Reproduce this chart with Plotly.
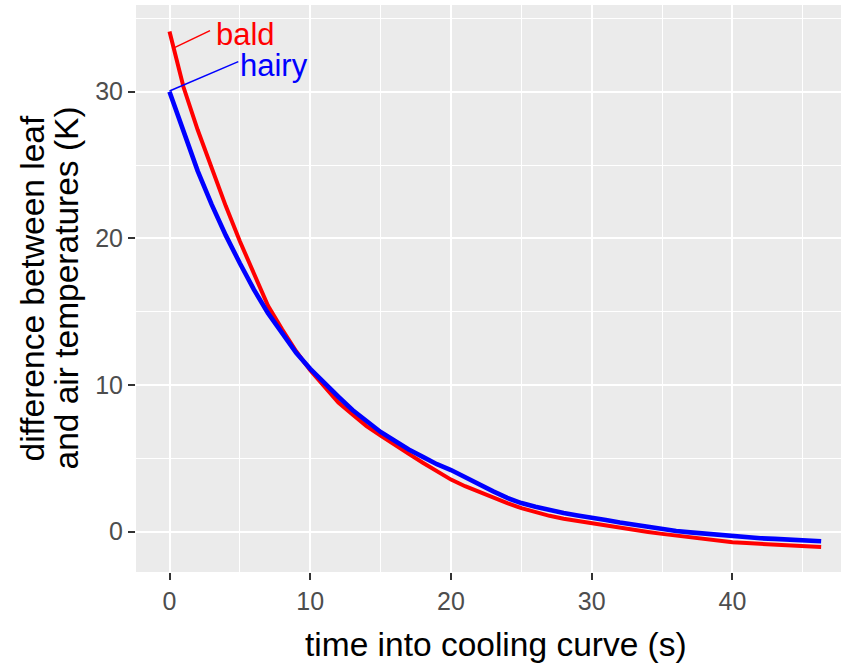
import plotly.graph_objects as go

# time (s)
time_s = [0, 1, 2, 3, 4, 5, 6, 7, 8, 9, 10, 11, 12, 13, 14, 15, 16, 17, 18, 19, 20,
          21, 22, 23, 24, 25, 26, 27, 28, 29, 30, 31, 32, 33, 34, 35, 36, 37, 38, 39, 40,
          41, 42, 43, 44, 45, 46, 46.3]

bald = [34.1, 30.3, 27.4, 24.8, 22.2, 19.8, 17.6, 15.4, 13.8, 12.3, 11.0, 9.9, 8.8, 8.0, 7.2,
        6.55, 5.9, 5.3, 4.7, 4.1, 3.55, 3.1, 2.7, 2.3, 1.95, 1.6, 1.33, 1.08, 0.88, 0.72, 0.58,
        0.42, 0.27, 0.12, -0.02, -0.15, -0.27, -0.38, -0.48, -0.6, -0.72, -0.78, -0.84, -0.9,
        -0.95, -1.0, -1.04, -1.05]

hairy = [30.0, 27.2, 24.6, 22.3, 20.2, 18.3, 16.5, 14.9, 13.5, 12.2, 11.1, 10.1, 9.2, 8.3, 7.5,
         6.8, 6.2, 5.6, 5.1, 4.6, 4.2, 3.7, 3.2, 2.75, 2.3, 1.95, 1.7, 1.47, 1.27, 1.1, 0.98,
         0.8, 0.62, 0.46, 0.3, 0.15, 0.05, -0.05, -0.14, -0.24, -0.34, -0.4, -0.45, -0.49,
         -0.52, -0.55, -0.6, -0.65]

series_names = ["bald", "hairy"]
series_colors = ["#FF0000", "#0000FF"]
series_widths = [4, 4.6]

# repel-style labels
label_t = [5.4, 7.4]
label_val = [33.9, 31.8]
seg_label_t = [2.88, 4.89]
seg_label_val = [34.16, 32.05]
seg_point_t = [0.39, 0.0]
seg_point_val = [33.02, 30.05]

x_ticks = [0, 10, 20, 30, 40]
y_ticks = [0, 10, 20, 30]

fig = go.Figure()
for name, vals, col, w in zip(series_names, [bald, hairy], series_colors, series_widths):
    fig.add_trace(go.Scatter(x=time_s, y=vals, mode="lines", name=name,
                             line=dict(color=col, width=w), showlegend=False))

for i, name in enumerate(series_names):
    fig.add_trace(go.Scatter(x=[seg_label_t[i], seg_point_t[i]],
                             y=[seg_label_val[i], seg_point_val[i]],
                             mode="lines", line=dict(color=series_colors[i], width=1.5),
                             showlegend=False, hoverinfo="skip"))
    fig.add_annotation(x=label_t[i], y=label_val[i], xref="x", yref="y", text=name,
                       showarrow=False, font=dict(family="Liberation Sans", size=31,
                                                  color=series_colors[i]),
                       xanchor="center", yanchor="middle")

xr = [-2.38, 47.71]
yr = [-2.75, 35.91]

fig.update_layout(
    width=841, height=664,
    margin=dict(l=136, r=0, t=5, b=92),
    paper_bgcolor="white", plot_bgcolor="#EBEBEB",
    font=dict(family="Liberation Sans"),
    xaxis=dict(range=xr, tickvals=x_ticks, ticktext=[str(v) for v in x_ticks],
               showgrid=True, gridcolor="white", gridwidth=2, zeroline=False,
               ticks="outside", ticklen=7, tickwidth=2, tickcolor="#333333",
               tickfont=dict(size=25, color="#4D4D4D", family="Liberation Sans"),
               minor=dict(dtick=5, tick0=0, showgrid=True, gridcolor="white", gridwidth=1),
               showline=False),
    yaxis=dict(range=yr, tickvals=y_ticks, ticktext=[str(v) for v in y_ticks],
               showgrid=True, gridcolor="white", gridwidth=2, zeroline=False,
               ticks="outside", ticklen=7, tickwidth=2, tickcolor="#333333",
               tickfont=dict(size=25, color="#4D4D4D", family="Liberation Sans"),
               minor=dict(dtick=5, tick0=0, showgrid=True, gridcolor="white", gridwidth=1),
               showline=False),
)

fig.add_annotation(x=(xr[0] + 48.75) / 2, xref="x", y=0, yref="paper",
                   text="time into cooling curve (s)", showarrow=False,
                   xanchor="center", yanchor="middle", yshift=-72,
                   font=dict(family="Liberation Sans", size=33.5, color="black"))
fig.add_annotation(x=0, xref="paper", y=0.5, yref="paper", xshift=-104,
                   text="difference between leaf", showarrow=False, textangle=-90,
                   xanchor="center", yanchor="middle",
                   font=dict(family="Liberation Sans", size=33.5, color="black"))
fig.add_annotation(x=0, xref="paper", y=0.5, yref="paper", xshift=-70,
                   text="and air temperatures (K)", showarrow=False, textangle=-90,
                   xanchor="center", yanchor="middle",
                   font=dict(family="Liberation Sans", size=33.5, color="black"))

fig.write_html("out.html")
